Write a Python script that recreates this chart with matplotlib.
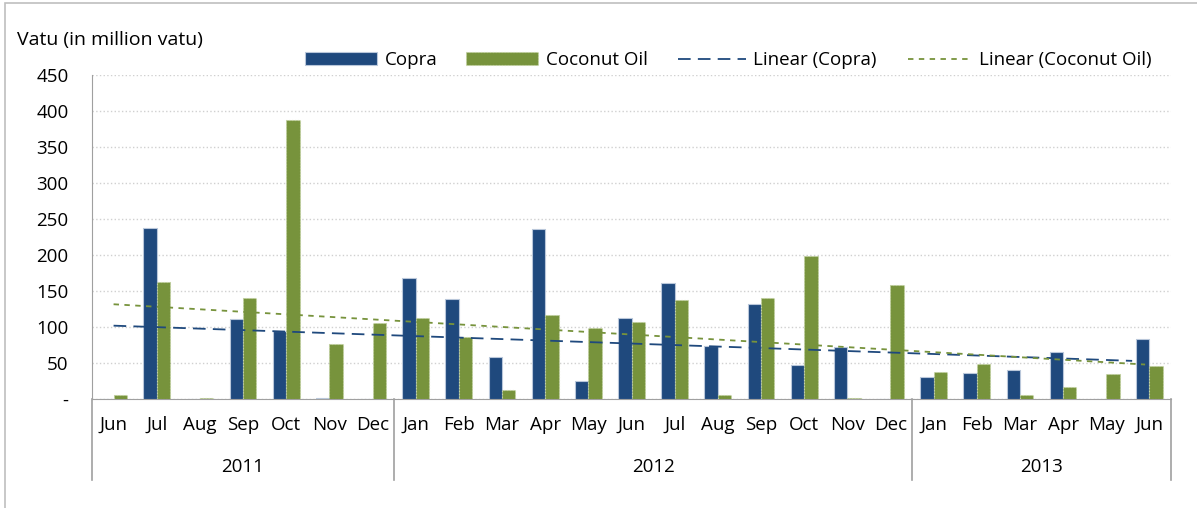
import numpy as np
import matplotlib.pyplot as plt
from matplotlib.patches import Rectangle
from matplotlib.legend import Legend

# data (million vatu)
months = ['Jun', 'Jul', 'Aug', 'Sep', 'Oct', 'Nov', 'Dec',
          'Jan', 'Feb', 'Mar', 'Apr', 'May', 'Jun', 'Jul', 'Aug', 'Sep', 'Oct', 'Nov', 'Dec',
          'Jan', 'Feb', 'Mar', 'Apr', 'May', 'Jun']
years = ['2011', '2012', '2013']
year_counts = [7, 12, 6]
copra = [0, 238, 0, 111, 95, 2, 0,
         168, 139, 58, 236, 25, 112, 161, 74, 132, 47, 72, 0,
         31, 36, 40, 65, 0, 83]
coconut_oil = [5, 162, 2, 140, 388, 76, 105,
               113, 86, 12, 116, 98, 107, 138, 5, 140, 198, 2, 158,
               38, 48, 5, 16, 35, 46]

blue = '#1F497D'
green = '#77933C'
fs = 13.5
plt.rcParams['font.family'] = ['Open Sans', 'DejaVu Sans']

fig = plt.figure(figsize=(11.97, 5.08), dpi=100)
ax = fig.add_axes([92 / 1197, 1 - 399 / 508, (1171 - 92) / 1197, 324 / 508])

x = np.arange(len(months))
w = 0.31
b1 = ax.bar(x - w / 2, copra, w, color=blue, edgecolor='#B9C7DA', linewidth=0.8,
            label='Copra', zorder=3)
b2 = ax.bar(x + w / 2, coconut_oil, w, color=green, edgecolor='#C4D4A0', linewidth=0.8,
            linestyle=':', label='Coconut Oil', zorder=3)

# linear trendlines
p1 = np.polyfit(x, copra, 1)
p2 = np.polyfit(x, coconut_oil, 1)
xt1 = np.array([0, len(x) - 1.4])
xt2 = np.array([0, len(x) - 1.1])
l1, = ax.plot(xt1, np.polyval(p1, xt1), color=blue, lw=1.3, dashes=(7, 4),
              label='Linear (Copra)', zorder=4)
l2, = ax.plot(xt2, np.polyval(p2, xt2), color=green, lw=1.3, dashes=(3, 3),
              label='Linear (Coconut Oil)', zorder=4)

ax.set_xlim(-0.5, len(x) - 0.5)
ax.set_ylim(0, 450)
ax.set_yticks(range(0, 451, 50))
ax.set_yticklabels(['-'] + [str(v) for v in range(50, 451, 50)])
ax.yaxis.grid(True, color='#D0D0D0', linestyle=':', linewidth=1)
ax.set_axisbelow(True)
for s in ['top', 'right']:
    ax.spines[s].set_visible(False)
ax.spines['left'].set_color('#A0A0A0')
ax.spines['bottom'].set_color('#A0A0A0')
ax.tick_params(axis='y', length=0, labelsize=fs, pad=17)
ax.tick_params(axis='x', length=0, labelsize=fs, pad=12)
ax.set_xticks(x)
ax.set_xticklabels(months)

# year grouping
trans = ax.get_xaxis_transform()
edges = np.concatenate([[0], np.cumsum(year_counts)]) - 0.5
for e in edges:
    ax.plot([e, e], [0, -0.25], color='#A0A0A0', lw=1.2, transform=trans, clip_on=False)
for i, yr in enumerate(years):
    ax.text((edges[i] + edges[i + 1]) / 2, -0.21, yr, transform=trans,
            ha='center', va='center', fontsize=fs)

fig.text(17 / 1197, 1 - 40 / 508, 'Vatu (in million vatu)', fontsize=14, va='center')

# legend entries placed one by one, like the Excel legend
entries = [(b1, 305, 3.85), (b2, 466, 3.85), (l1, 678, 3.6), (l2, 908, 3.4)]
for h, px, hl in entries:
    lg = Legend(ax, [h], [h.get_label()], loc='center left',
                bbox_to_anchor=((px - 92) / 1079, (399 - 60) / 324),
                frameon=False, fontsize=fs, handlelength=hl, handleheight=0.65,
                handletextpad=0.4, borderpad=0, borderaxespad=0)
    ax.add_artist(lg)

fig.add_artist(Rectangle((5 / 1197, -0.01), 1.2, 1.004, transform=fig.transFigure,
                         fill=False, edgecolor='#BFBFBF', lw=1.2))

fig.savefig('out.png', dpi=100)
